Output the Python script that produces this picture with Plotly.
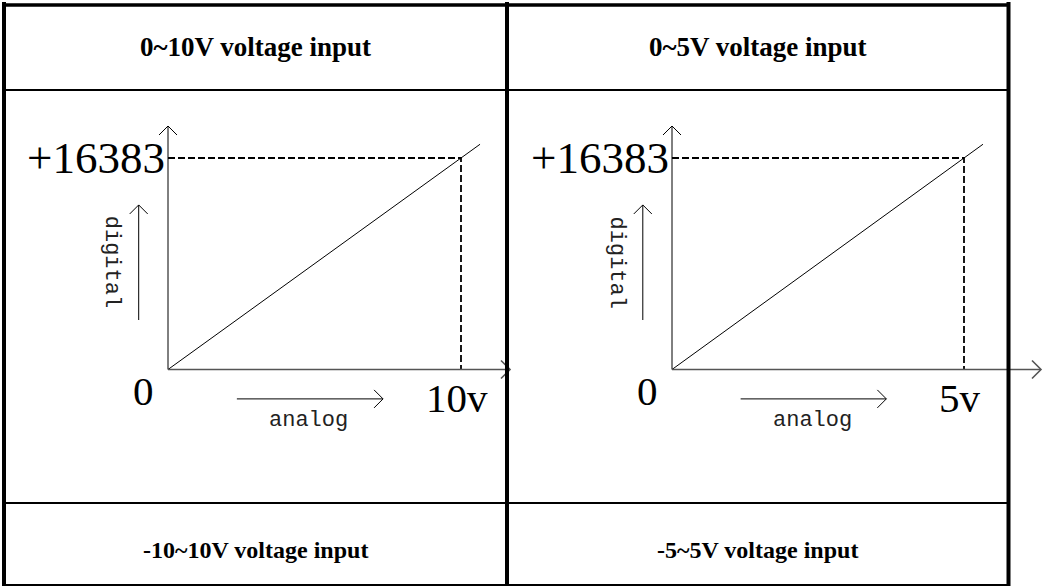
import plotly.graph_objects as go

W, H = 1043, 587

# ---- content ----
header_titles = ["0~10V voltage input", "0~5V voltage input"]
footer_titles = ["-10~10V voltage input", "-5~5V voltage input"]
analog_full_scale = [10, 5]          # volts at full scale, per panel
analog_unit_labels = ["10v", "5v"]
digital_full_scale = 16383
digital_label = "+16383"
zero_label = "0"
x_axis_name = "analog"
y_axis_name = "digital"

# ---- geometry (pixels) ----
col_px = [4, 507, 1008.5]            # left border, middle divider, right border
row_px = [5, 90, 503, 585]           # top border, header rule, footer rule, bottom
origin_px = [(168, 369.5), (672, 369.5)]
full_x_px = [461, 964]               # pixel column of the full-scale voltage
full_y_px = 158                      # pixel row of the full-scale code
x_axis_end_px = [510, 1041]
head = 9                             # arrow head half-size, px

SERIF = "Liberation Serif"
MONO = "Liberation Mono"


def px(x):
    return x / W


def py(y):
    return 1 - y / H


fig = go.Figure()

ox0, oy0 = origin_px[0]
y_scale = (oy0 - full_y_px) / digital_full_scale   # px per code
y_range = [-(H - oy0) / y_scale, oy0 / y_scale]

axis_names = ["x", "x2"]
layout_axes = {}
for i, vmax in enumerate(analog_full_scale):
    ox, oy = origin_px[i]
    x_scale = (full_x_px[i] - ox) / vmax            # px per volt
    x_range = [-ox / x_scale, (W - ox) / x_scale]
    key = "xaxis" if i == 0 else "xaxis2"
    layout_axes[key] = dict(range=x_range, domain=[0, 1], visible=False,
                            showgrid=False, zeroline=False, fixedrange=True)
    if i == 1:
        layout_axes[key]["overlaying"] = "x"
    xr = axis_names[i]
    dx = head / x_scale
    dy = head / y_scale

    y_top = digital_full_scale * (oy - 126) / (oy - full_y_px)
    x_end = (x_axis_end_px[i] - ox) / x_scale

    # transfer line: code = 16383 * v / vmax, drawn a little past full scale
    v_line = [0, vmax * 1.065]
    fig.add_trace(go.Scatter(x=v_line, y=[v * digital_full_scale / vmax for v in v_line],
                             mode="lines", line=dict(color="black", width=1),
                             xaxis=xr, yaxis="y", hoverinfo="skip", showlegend=False))

    # dashed guides to the full-scale point
    fig.add_trace(go.Scatter(x=[0, vmax, vmax], y=[digital_full_scale, digital_full_scale, 0],
                             mode="lines", line=dict(color="black", width=1.8, dash="7px,3px"),
                             xaxis=xr, yaxis="y", hoverinfo="skip", showlegend=False))

    # vertical (digital) axis with arrow head
    fig.add_trace(go.Scatter(x=[0, 0, None, -dx, 0, dx], y=[0, y_top, None, y_top - dy, y_top, y_top - dy],
                             mode="lines", line=dict(color="black", width=1),
                             xaxis=xr, yaxis="y", hoverinfo="skip", showlegend=False))

    # horizontal (analog) axis with arrow head
    fig.add_trace(go.Scatter(x=[0, x_end, None, x_end - dx, x_end, x_end - dx],
                             y=[0, 0, None, dy, 0, -dy],
                             mode="lines", line=dict(color="#555555", width=1.6),
                             xaxis=xr, yaxis="y", hoverinfo="skip", showlegend=False))

    # "digital" direction arrow
    ax_x = -0.1 * vmax
    a0, a1 = 0.234 * digital_full_scale, 0.778 * digital_full_scale
    fig.add_trace(go.Scatter(x=[ax_x, ax_x, None, ax_x - dx, ax_x, ax_x + dx],
                             y=[a0, a1, None, a1 - dy, a1, a1 - dy],
                             mode="lines", line=dict(color="black", width=1),
                             xaxis=xr, yaxis="y", hoverinfo="skip", showlegend=False))

    # "analog" direction arrow
    ay = -0.139 * digital_full_scale
    b0, b1 = 0.235 * vmax, 0.734 * vmax
    fig.add_trace(go.Scatter(x=[b0, b1, None, b1 - dx, b1, b1 - dx],
                             y=[ay, ay, None, ay + dy, ay, ay - dy],
                             mode="lines", line=dict(color="black", width=1),
                             xaxis=xr, yaxis="y", hoverinfo="skip", showlegend=False))

    ann = []
    ann.append(dict(x=0, y=digital_full_scale, xref=xr, yref="y", text=digital_label,
                    xanchor="right", yanchor="middle", xshift=-1, showarrow=False,
                    font=dict(family=SERIF, size=45, color="black")))
    ann.append(dict(x=-0.085 * vmax, y=-0.102 * digital_full_scale, xref=xr, yref="y",
                    text=zero_label, xanchor="center", yanchor="middle", showarrow=False,
                    font=dict(family=SERIF, size=41, color="black")))
    ann.append(dict(x=vmax * 0.985, y=-0.135 * digital_full_scale, xref=xr, yref="y",
                    text=analog_unit_labels[i], xanchor="center", yanchor="middle",
                    showarrow=False, font=dict(family=SERIF, size=41, color="black")))
    ann.append(dict(x=-0.19 * vmax, y=0.508 * digital_full_scale, xref=xr, yref="y",
                    text=y_axis_name, textangle=90, xanchor="center", yanchor="middle",
                    showarrow=False, font=dict(family=MONO, size=22, color="#222222")))
    ann.append(dict(x=0.48 * vmax, y=-0.239 * digital_full_scale, xref=xr, yref="y",
                    text=x_axis_name, xanchor="center", yanchor="middle",
                    showarrow=False, font=dict(family=MONO, size=22, color="#222222")))
    for a in ann:
        fig.add_annotation(**a)

# ---- table titles ----
for i in range(2):
    cx = (col_px[i] + col_px[i + 1]) / 2
    fig.add_annotation(x=px(cx), y=py(47), xref="paper", yref="paper",
                       text="<b>%s</b>" % header_titles[i], showarrow=False,
                       xanchor="center", yanchor="middle",
                       font=dict(family=SERIF, size=27, color="black"))
    fig.add_annotation(x=px(cx), y=py(550), xref="paper", yref="paper",
                       text="<b>%s</b>" % footer_titles[i], showarrow=False,
                       xanchor="center", yanchor="middle",
                       font=dict(family=SERIF, size=24, color="black"))

# ---- table rules ----
def rule(x0, y0, x1, y1, w):
    fig.add_shape(type="line", xref="paper", yref="paper", layer="above",
                  x0=px(x0), y0=py(y0), x1=px(x1), y1=py(y1),
                  line=dict(color="black", width=w))

rule(col_px[0], row_px[0], col_px[2], row_px[0], 3.5)
rule(col_px[0], row_px[1], col_px[2], row_px[1], 2)
rule(col_px[0], row_px[2], col_px[2], row_px[2], 2)
rule(col_px[0], row_px[3], col_px[2], row_px[3], 2)
rule(col_px[0], 2, col_px[0], row_px[3] + 1, 4)
rule(col_px[1], 2, col_px[1], row_px[3] + 1, 4)
rule(col_px[2], 2, col_px[2], row_px[3] + 1, 4)

fig.update_layout(
    width=W, height=H,
    margin=dict(l=0, r=0, t=0, b=0),
    paper_bgcolor="white", plot_bgcolor="white",
    yaxis=dict(range=y_range, domain=[0, 1], visible=False, showgrid=False,
               zeroline=False, fixedrange=True),
    showlegend=False,
    **layout_axes,
)

fig.write_html("out.html", config={"displayModeBar": False})
